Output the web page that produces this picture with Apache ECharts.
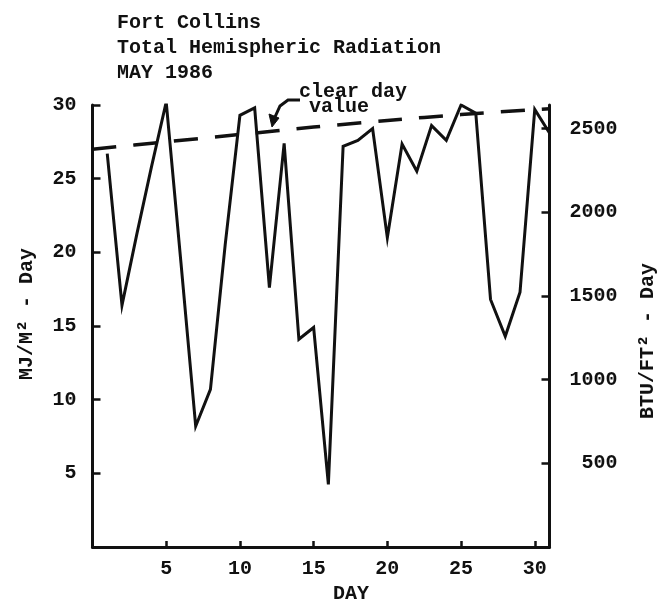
<!DOCTYPE html>
<html>
<head>
<meta charset="utf-8">
<style>
  html, body { margin: 0; padding: 0; background: #fff; }
  #chart { width: 663px; height: 604px; }
</style>
<script src="https://cdn.jsdelivr.net/npm/echarts@6/dist/echarts.min.js"></script>
</head>
<body>
<div id="chart"></div>
<script>
// Daily total hemispheric radiation, Fort Collins, May 1986 (MJ/m² per day)
const days = [1, 2, 3, 4, 5, 6, 7, 8, 9, 10, 11, 12, 13, 14, 15, 16,
              17, 18, 19, 20, 21, 22, 23, 24, 25, 26, 27, 28, 29, 30, 31];
const radiation = [26.7, 16.4, 21.2, 25.8, 30.2, 19.3, 8.2, 10.7, 20.5, 29.3, 29.8, 17.6, 27.4, 14.1, 14.9, 4.25,
                   27.2, 27.6, 28.4, 21.0, 27.35, 25.5, 28.6, 27.6, 30.0, 29.45, 16.8, 14.3, 17.3, 29.7, 28.1];

// Clear-day reference curve (MJ/m² per day)
const clearDays = [0, 5, 10, 15, 20, 25, 31];
const clearValues = [27.0, 27.5, 28.0, 28.5, 28.95, 29.35, 29.75];

// Axis ticks
const dayTicks = [5, 10, 15, 20, 25, 30];
const mjTicks = [5, 10, 15, 20, 25, 30];
const btuTicks = [500, 1000, 1500, 2000, 2500];

// 1 MJ/m² = 88.055 BTU/ft²
const BTU_PER_MJ = 88.055;
const mjMax = 30;

const FONT = '"Liberation Mono", "DejaVu Sans Mono", monospace';
const INK = '#111';

const chart = echarts.init(document.getElementById('chart'), null, { renderer: 'canvas' });

const axisTextStyle = { color: INK, fontFamily: FONT, fontSize: 20, fontWeight: 'bold' };
const plain = v => String(v);

chart.setOption({
  backgroundColor: '#fff',
  animation: false,
  title: {
    text: 'Fort Collins\nTotal Hemispheric Radiation\nMAY 1986',
    left: 112,
    top: 5,
    textStyle: { color: INK, fontFamily: FONT, fontSize: 20, fontWeight: 'bold', lineHeight: 25 }
  },
  grid: {
    left: 92.5, right: 113.5, top: 105, bottom: 57,
    containLabel: false, outerBoundsMode: 'none'
  },
  xAxis: {
    type: 'value',
    min: 0, max: 31, interval: 5,
    name: 'DAY',
    nameLocation: 'middle',
    nameGap: 36,
    nameTextStyle: Object.assign({}, axisTextStyle, { padding: [0, 0, 0, 60] }),
    axisLine: { show: true, onZero: false, lineStyle: { color: INK, width: 3 } },
    axisTick: { show: true, inside: true, length: 6, customValues: dayTicks, lineStyle: { color: INK, width: 2.5 } },
    axisLabel: Object.assign({ customValues: dayTicks, margin: 12, formatter: plain }, axisTextStyle),
    splitLine: { show: false }
  },
  yAxis: [
    {
      type: 'value',
      position: 'left',
      min: 0, max: mjMax, interval: 5,
      name: 'MJ/M² - Day',
      nameLocation: 'middle',
      nameGap: 56,
      nameTextStyle: Object.assign({}, axisTextStyle, { padding: [0, 0, 0, 24] }),
      axisLine: { show: true, onZero: false, lineStyle: { color: INK, width: 3 } },
      axisTick: { show: true, inside: true, length: 8, customValues: mjTicks, lineStyle: { color: INK, width: 2.5 } },
      axisLabel: Object.assign({ customValues: mjTicks, margin: 16, formatter: plain }, axisTextStyle),
      splitLine: { show: false }
    },
    {
      type: 'value',
      position: 'right',
      min: 0, max: mjMax * BTU_PER_MJ, interval: 500,
      name: 'BTU/FT² - Day',
      nameLocation: 'middle',
      nameGap: 88,
      nameTextStyle: Object.assign({}, axisTextStyle, { padding: [0, 30, 0, 0] }),
      axisLine: { show: true, onZero: false, lineStyle: { color: INK, width: 3 } },
      axisTick: { show: true, inside: true, length: 8, customValues: btuTicks, lineStyle: { color: INK, width: 2.5 } },
      axisLabel: Object.assign({ customValues: btuTicks, margin: 68, align: 'right', formatter: plain }, axisTextStyle),
      splitLine: { show: false }
    }
  ],
  series: [
    {
      name: 'Clear day value',
      type: 'line',
      yAxisIndex: 0,
      data: clearDays.map((d, i) => [d, clearValues[i]]),
      showSymbol: false,
      smooth: 0.3,
      lineStyle: { color: INK, width: 3.5, type: [24, 17], cap: 'butt' },
      z: 2
    },
    {
      name: 'Total hemispheric radiation',
      type: 'line',
      yAxisIndex: 0,
      data: days.map((d, i) => [d, radiation[i]]),
      showSymbol: false,
      lineStyle: { color: INK, width: 3, join: 'miter' },
      z: 3
    }
  ],
  graphic: [
    {
      type: 'text', left: 299, top: 82,
      style: { text: 'clear day', fill: INK, font: 'bold 20px ' + FONT }
    },
    {
      type: 'text', left: 309, top: 97,
      style: { text: 'value', fill: INK, font: 'bold 20px ' + FONT }
    },
    {
      type: 'polyline',
      shape: { points: [[300, 100], [288, 100], [280, 106], [275, 117]] },
      style: { stroke: INK, lineWidth: 3, fill: null }
    },
    {
      type: 'polygon',
      shape: { points: [[269, 114], [279, 118], [272, 127]] },
      style: { fill: INK, stroke: INK, lineWidth: 1 }
    }
  ]
});
</script>
</body>
</html>
